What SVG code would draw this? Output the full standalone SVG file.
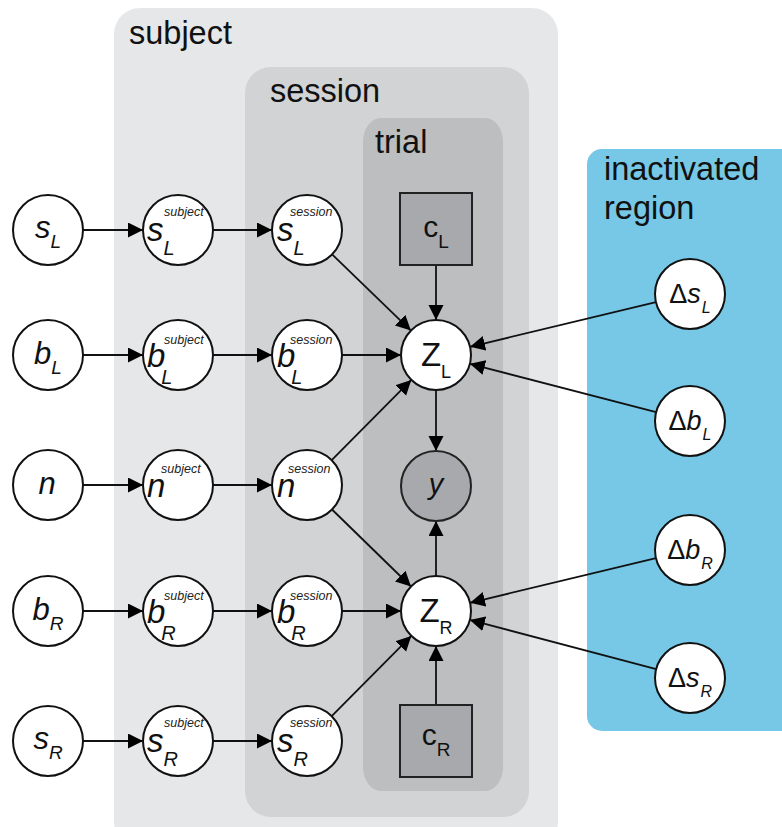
<svg xmlns="http://www.w3.org/2000/svg" width="782" height="827" viewBox="0 0 782 827">
<style>
.lbl{font-family:"Liberation Sans",Arial,sans-serif;font-size:32.5px;fill:#111}
.nd{fill:#fff;stroke:#111;stroke-width:2}
.gr{fill:#a7a9ac;stroke:#222;stroke-width:2}
.t{font-family:"Liberation Sans",Arial,sans-serif;fill:#111}
.it{font-style:italic}
.m1{font-size:31px}
.s1{font-size:19px}
.m2{font-size:33px}
.s2{font-size:20px}
.sup{font-size:12.5px;font-style:italic;fill:#222}
.cn line{stroke:#111;stroke-width:1.8;marker-end:url(#ah)}
</style>
<defs>
<marker id="ah" markerUnits="userSpaceOnUse" markerWidth="16" markerHeight="16" refX="15" refY="7.5" orient="auto" viewBox="0 0 16 16">
<path d="M0,0 L15,7.5 L0,15 z" fill="#000"/>
</marker>
</defs>
<rect width="782" height="827" fill="#fff"/>
<g id="plate-subject">
<rect x="114" y="8" width="444" height="840" rx="26" ry="26" fill="#e6e7e8"/>
<text class="lbl" x="129" y="44">subject</text>
</g>
<g id="plate-session">
<rect x="245" y="67" width="284" height="750" rx="26" ry="26" fill="#d1d3d4"/>
<text class="lbl" x="270" y="102">session</text>
</g>
<g id="plate-trial">
<rect x="363" y="118" width="140" height="673" rx="18" ry="24" fill="#bcbec0"/>
<text class="lbl" x="375" y="153">trial</text>
</g>
<g id="plate-region">
<rect x="587" y="149" width="215" height="582" rx="15" ry="15" fill="#76c8e6"/>
<text class="lbl" x="604" y="180">inactivated</text>
<text class="lbl" x="604" y="219">region</text>
</g>

<g id="connectors" class="cn">
<line x1="83" y1="230" x2="143" y2="230"/>
<line x1="83" y1="355" x2="143" y2="355"/>
<line x1="83" y1="485" x2="143" y2="485"/>
<line x1="83" y1="611" x2="143" y2="611"/>
<line x1="83" y1="741" x2="143" y2="741"/>
<line x1="213" y1="230" x2="272" y2="230"/>
<line x1="213" y1="355" x2="272" y2="355"/>
<line x1="213" y1="485" x2="272" y2="485"/>
<line x1="213" y1="611" x2="272" y2="611"/>
<line x1="213" y1="741" x2="272" y2="741"/>
<line x1="332.1" y1="254.4" x2="410.9" y2="330.6"/>
<line x1="342" y1="355" x2="401" y2="355"/>
<line x1="331.7" y1="460.1" x2="411.3" y2="379.9"/>
<line x1="332" y1="509.5" x2="411" y2="586.5"/>
<line x1="342" y1="611" x2="401" y2="611"/>
<line x1="331.7" y1="716.1" x2="411.3" y2="635.9"/>
<line x1="436" y1="265" x2="436" y2="320"/>
<line x1="436" y1="390" x2="436" y2="451"/>
<line x1="436" y1="576" x2="436" y2="521"/>
<line x1="436" y1="705" x2="436" y2="646"/>
<line x1="656" y1="302.2" x2="470" y2="346.8"/>
<line x1="656.1" y1="412.2" x2="469.9" y2="363.8"/>
<line x1="656" y1="558.2" x2="470" y2="602.8"/>
<line x1="656.2" y1="669.1" x2="469.8" y2="619.9"/>
</g>

<g id="node-sL">
<circle class="nd" cx="48" cy="230" r="35"/>
<text class="t it m1" x="48" y="238" text-anchor="middle">s<tspan class="s1" dy="10">L</tspan></text>
</g>
<g id="node-bL">
<circle class="nd" cx="48" cy="355" r="35"/>
<text class="t it m1" x="48" y="364" text-anchor="middle">b<tspan class="s1" dy="10">L</tspan></text>
</g>
<g id="node-n">
<circle class="nd" cx="48" cy="485" r="35"/>
<text class="t it m1" x="47" y="494" text-anchor="middle">n</text>
</g>
<g id="node-bR">
<circle class="nd" cx="48" cy="611" r="35"/>
<text class="t it m1" x="48" y="620" text-anchor="middle">b<tspan class="s1" dy="10">R</tspan></text>
</g>
<g id="node-sR">
<circle class="nd" cx="48" cy="741" r="35"/>
<text class="t it m1" x="48" y="749" text-anchor="middle">s<tspan class="s1" dy="10">R</tspan></text>
</g>

<g id="node-sL-subject">
<circle class="nd" cx="178" cy="230" r="35"/>
<text class="t it m2" x="147" y="241">s<tspan class="s2" dy="14">L</tspan></text>
<text class="t sup" x="164" y="216">subject</text>
</g>
<g id="node-bL-subject">
<circle class="nd" cx="178" cy="355" r="35"/>
<text class="t it m2" x="147" y="367">b<tspan class="s2" dy="17" dx="-4">L</tspan></text>
<text class="t sup" x="164" y="344">subject</text>
</g>
<g id="node-n-subject">
<circle class="nd" cx="178" cy="485" r="35"/>
<text class="t it m2" x="147" y="497">n</text>
<text class="t sup" x="161" y="473">subject</text>
</g>
<g id="node-bR-subject">
<circle class="nd" cx="178" cy="611" r="35"/>
<text class="t it m2" x="147" y="623">b<tspan class="s2" dy="17" dx="-4">R</tspan></text>
<text class="t sup" x="164" y="600">subject</text>
</g>
<g id="node-sR-subject">
<circle class="nd" cx="178" cy="741" r="35"/>
<text class="t it m2" x="147" y="752">s<tspan class="s2" dy="14">R</tspan></text>
<text class="t sup" x="164" y="727">subject</text>
</g>

<g id="node-sL-session">
<circle class="nd" cx="307" cy="230" r="35"/>
<text class="t it m2" x="277" y="241">s<tspan class="s2" dy="14">L</tspan></text>
<text class="t sup" x="290" y="216">session</text>
</g>
<g id="node-bL-session">
<circle class="nd" cx="307" cy="355" r="35"/>
<text class="t it m2" x="277" y="367">b<tspan class="s2" dy="17" dx="-4">L</tspan></text>
<text class="t sup" x="290" y="344">session</text>
</g>
<g id="node-n-session">
<circle class="nd" cx="307" cy="485" r="35"/>
<text class="t it m2" x="277" y="497">n</text>
<text class="t sup" x="288" y="473">session</text>
</g>
<g id="node-bR-session">
<circle class="nd" cx="307" cy="611" r="35"/>
<text class="t it m2" x="277" y="623">b<tspan class="s2" dy="17" dx="-4">R</tspan></text>
<text class="t sup" x="290" y="600">session</text>
</g>
<g id="node-sR-session">
<circle class="nd" cx="307" cy="741" r="35"/>
<text class="t it m2" x="277" y="752">s<tspan class="s2" dy="14">R</tspan></text>
<text class="t sup" x="290" y="727">session</text>
</g>

<g id="node-cL">
<rect class="gr" x="400" y="193" width="72" height="72"/>
<text class="t" x="436" y="237" text-anchor="middle" font-size="30">c<tspan font-size="19" dy="11">L</tspan></text>
</g>
<g id="node-ZL">
<circle class="nd" cx="436" cy="355" r="35"/>
<text class="t" x="436" y="366" text-anchor="middle" font-size="33">Z<tspan font-size="18" dy="12">L</tspan></text>
</g>
<g id="node-y">
<circle class="gr" cx="436" cy="486" r="35"/>
<text class="t it" x="436" y="494" text-anchor="middle" font-size="29">y</text>
</g>
<g id="node-ZR">
<circle class="nd" cx="436" cy="611" r="35"/>
<text class="t" x="436" y="622" text-anchor="middle" font-size="33">Z<tspan font-size="18" dy="12">R</tspan></text>
</g>
<g id="node-cR">
<rect class="gr" x="400" y="705" width="72" height="72"/>
<text class="t" x="436" y="745" text-anchor="middle" font-size="30">c<tspan font-size="19" dy="11">R</tspan></text>
</g>

<g id="node-dsL">
<circle class="nd" cx="690" cy="294" r="35"/>
<text class="t" x="690" y="303" text-anchor="middle" font-size="27">Δ<tspan class="it">s</tspan><tspan class="it" font-size="16" dy="10" dx="1">L</tspan></text>
</g>
<g id="node-dbL">
<circle class="nd" cx="690" cy="421" r="35"/>
<text class="t" x="690" y="430" text-anchor="middle" font-size="27">Δ<tspan class="it">b</tspan><tspan class="it" font-size="16" dy="10" dx="1">L</tspan></text>
</g>
<g id="node-dbR">
<circle class="nd" cx="690" cy="550" r="35"/>
<text class="t" x="690" y="559" text-anchor="middle" font-size="27">Δ<tspan class="it">b</tspan><tspan class="it" font-size="16" dy="10" dx="1">R</tspan></text>
</g>
<g id="node-dsR">
<circle class="nd" cx="690" cy="678" r="35"/>
<text class="t" x="690" y="687" text-anchor="middle" font-size="27">Δ<tspan class="it">s</tspan><tspan class="it" font-size="16" dy="10" dx="1">R</tspan></text>
</g>
</svg>
